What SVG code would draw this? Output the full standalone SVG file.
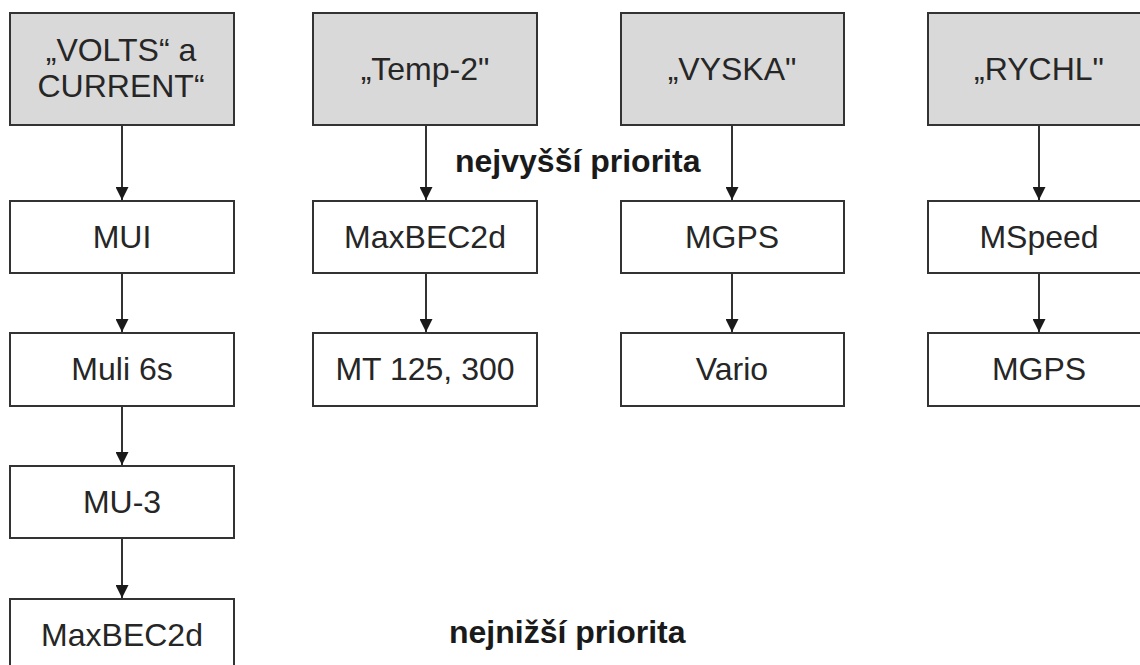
<svg xmlns="http://www.w3.org/2000/svg" width="1140" height="665" viewBox="0 0 1140 665">
<style>
.box{fill:#ffffff;stroke:#333333;stroke-width:2}
.top{fill:#d9d9d9;stroke:#333333;stroke-width:2}
.t{font-family:"Liberation Sans",Arial,sans-serif;font-size:32px;fill:#262626;text-anchor:middle}
.b{font-family:"Liberation Sans",Arial,sans-serif;font-size:32px;font-weight:bold;fill:#1a1a1a}
.c{stroke:#333333;stroke-width:2;fill:none;marker-end:url(#ah)}
</style>
<defs>
<marker id="ah" markerUnits="userSpaceOnUse" markerWidth="13" markerHeight="13" viewBox="0 0 13 13" refX="13" refY="6.5" orient="auto">
<path d="M0,0 L13,6.5 L0,13 Z" fill="#1a1a1a"/>
</marker>
</defs>
<rect width="1140" height="665" fill="#ffffff"/>
<g id="connectors">
<line class="c" x1="122" y1="125" x2="122" y2="200"/>
<line class="c" x1="122" y1="273" x2="122" y2="332"/>
<line class="c" x1="122" y1="406" x2="122" y2="465"/>
<line class="c" x1="122" y1="538" x2="122" y2="598"/>
<line class="c" x1="426" y1="125" x2="426" y2="200"/>
<line class="c" x1="426" y1="273" x2="426" y2="332"/>
<line class="c" x1="732" y1="125" x2="732" y2="200"/>
<line class="c" x1="732" y1="273" x2="732" y2="332"/>
<line class="c" x1="1039" y1="125" x2="1039" y2="200"/>
<line class="c" x1="1039" y1="273" x2="1039" y2="332"/>
</g>
<g id="n-volts"><rect class="top" x="10" y="13" width="224" height="112"/><text class="t" x="121" y="61">„VOLTS“ a</text><text class="t" x="121" y="97">CURRENT“</text></g>
<g id="n-temp"><rect class="top" x="313" y="13" width="224" height="112"/><text class="t" x="425" y="80">„Temp-2"</text></g>
<g id="n-vyska"><rect class="top" x="621" y="13" width="223" height="112"/><text class="t" x="732" y="80">„VYSKA"</text></g>
<g id="n-rychl"><rect class="top" x="928" y="13" width="224" height="112"/><text class="t" x="1039" y="80">„RYCHL"</text></g>
<g id="n-mui"><rect class="box" x="10" y="201" width="224" height="72"/><text class="t" x="122" y="248">MUI</text></g>
<g id="n-muli"><rect class="box" x="10" y="333" width="224" height="73"/><text class="t" x="122" y="380">Muli 6s</text></g>
<g id="n-mu3"><rect class="box" x="10" y="466" width="224" height="72"/><text class="t" x="122" y="513">MU-3</text></g>
<g id="n-maxbec1"><rect class="box" x="10" y="599" width="224" height="72"/><text class="t" x="122" y="646">MaxBEC2d</text></g>
<g id="n-maxbec2"><rect class="box" x="313" y="201" width="224" height="72"/><text class="t" x="425" y="248">MaxBEC2d</text></g>
<g id="n-mt"><rect class="box" x="313" y="333" width="224" height="73"/><text class="t" x="425" y="380">MT 125, 300</text></g>
<g id="n-mgps1"><rect class="box" x="621" y="201" width="223" height="72"/><text class="t" x="732" y="248">MGPS</text></g>
<g id="n-vario"><rect class="box" x="621" y="333" width="223" height="73"/><text class="t" x="732" y="380">Vario</text></g>
<g id="n-mspeed"><rect class="box" x="928" y="201" width="224" height="72"/><text class="t" x="1039" y="248">MSpeed</text></g>
<g id="n-mgps2"><rect class="box" x="928" y="333" width="224" height="73"/><text class="t" x="1039" y="380">MGPS</text></g>
<g id="labels">
<text class="b" x="455" y="172">nejvyšší priorita</text>
<text class="b" x="449" y="643">nejnižší priorita</text>
</g>
</svg>
